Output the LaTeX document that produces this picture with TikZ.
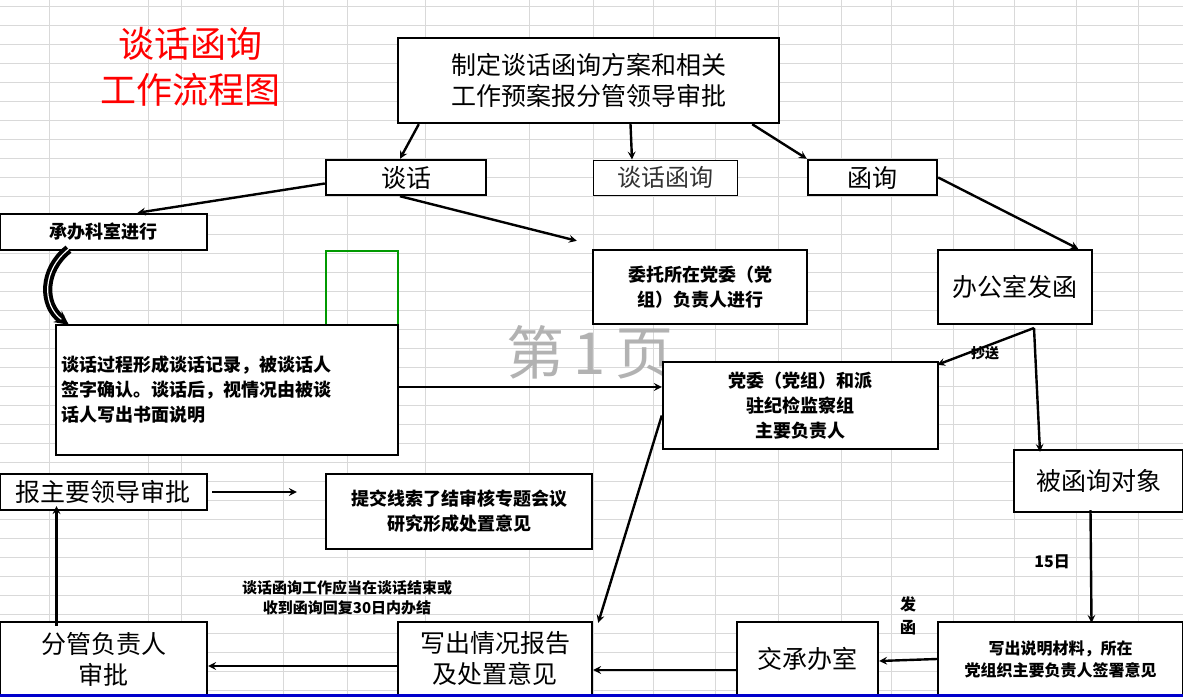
\documentclass[tikz,border=0pt]{standalone}
\usepackage{fontspec}
\setmainfont{Noto Sans CJK SC}
\newfontfamily\cjk{Noto Sans CJK SC}
\begin{document}
\begin{tikzpicture}[x=1pt,y=-1pt,
  bx/.style={draw=black,line width=2.4pt,fill=white,inner sep=0pt,align=center},
  ar/.style={-stealth,line width=2.4pt},
  t18/.style={font=\bfseries\fontsize{18}{25}\selectfont},
  t24/.style={font=\fontsize{25}{31}\selectfont}]
\useasboundingbox (0,0) rectangle (1183,696);
\fill[white] (0,0) rectangle (1183,696);
% grid
\foreach \x in {49,148,181,283,347,425,529,593,653,715,778,841,891,953,1014,1076,1138}
  \draw[gray!30,line width=0.8pt] (\x,0) -- (\x,696);
\foreach \y in {6,25,44,63,82,101,120,139,158,177,196,215,234,253,272,291,310,329,348,367,386,405,424,443,462,481,500,519,538,557,576,595,614,633,652,671,690}
  \draw[gray!30,line width=0.8pt] (0,\y) -- (1183,\y);
% title
\node[red,font=\fontsize{36}{46}\selectfont,align=center] (title) at (190,67) {谈话函询\\工作流程图};
% watermark
\node[gray!60,font=\fontsize{58}{60}\selectfont] (wm) at (590,352) {第\,1\,页};
% boxes
\node[bx,t24,minimum width=381,minimum height=85] (top) at (588.5,80.5) {制定谈话函询方案和相关\\工作预案报分管领导审批};
\node[bx,t24,minimum width=160,minimum height=35] (th) at (406,177.5) {谈话};
\node[bx,line width=1pt,font=\fontsize{24}{26}\selectfont\color{black!80},minimum width=144,minimum height=35] (thhx) at (665,177.5) {谈话函询};
\node[bx,t24,minimum width=129,minimum height=35] (hx) at (872.5,177.5) {函询};
\node[bx,t18,minimum width=207,minimum height=36] (cb) at (103.5,232) {承办科室进行};
\node[draw=green!60!black,line width=2pt,minimum width=72,minimum height=74,inner sep=0pt] (gr) at (362,288) {};
\node[bx,t18,minimum width=214,minimum height=74] (wt) at (700,287) {委托所在党委（党\\组）负责人进行};
\node[bx,t24,minimum width=154,minimum height=74] (bgs) at (1015,287) {办公室发函};
\node[bx,t18,minimum width=342,minimum height=130,align=left,text width=332] (big) at (227,390) {谈话过程形成谈话记录，被谈话人\\签字确认。谈话后，视情况由被谈\\话人写出书面说明};
\node[bx,t18,minimum width=275,minimum height=87] (dw) at (800.5,405.5) {党委（党组）和派\\驻纪检监察组\\主要负责人};
\node[bx,t24,minimum width=169,minimum height=62] (bhx) at (1098.5,481) {被函询对象};
\node[bx,t24,minimum width=207,minimum height=36] (bz) at (103.5,492) {报主要领导审批};
\node[bx,t18,minimum width=266,minimum height=75] (tj) at (459,511.5) {提交线索了结审核专题会议\\研究形成处置意见};
\node[bx,t24,minimum width=207,minimum height=74] (fg) at (103.5,659) {分管负责人\\审批};
\node[bx,t24,minimum width=194,minimum height=74] (xc) at (495,659) {写出情况报告\\及处置意见};
\node[bx,t24,minimum width=141,minimum height=74] (jc) at (807.5,659) {交承办室};
\node[bx,font=\bfseries\fontsize{16}{22}\selectfont,minimum width=245,minimum height=74] (sm) at (1060.5,659) {写出说明材料，所在\\党组织主要负责人签署意见};
\draw[blue!80!black,line width=3pt] (0,695) -- (1183,695);
% labels
\node[font=\bfseries\fontsize{14}{15}\selectfont] (cs) at (985,353) {抄送};
\node[font=\bfseries\fontsize{16}{18}\selectfont] (d15) at (1052,562) {15日};
\node[font=\bfseries\fontsize{16}{23}\selectfont,align=center] (fh) at (908,616) {发\\函};
\node[font=\bfseries\fontsize{15}{20}\selectfont,align=center] (note) at (347,598) {谈话函询工作应当在谈话结束或\\收到函询回复30日内办结};
% arrows
\draw[ar] ([xshift=22pt]top.south west) -- ([xshift=-6pt]th.north);
\draw[ar] ([xshift=42pt]top.south) -- ([xshift=-33pt]thhx.north);
\draw[ar] ([xshift=-28pt]top.south east) -- (hx.north west);
\draw[ar] ([yshift=-6pt]th.west) -- ([xshift=34pt]cb.north);
\draw[ar] ([xshift=-6pt]th.south) -- ([xshift=-15pt,yshift=8pt]wt.north west);
\draw[ar] (hx.east) -- ([xshift=-15pt]bgs.north east);
\draw[-stealth,line width=4pt,double=white,double distance=1.2pt] ([xshift=-35pt,yshift=2pt]cb.south) .. controls (42,270) and (42,305) .. ([xshift=14pt,yshift=-1pt]big.north west);
\draw[ar] ([yshift=3pt]big.east) -- ([yshift=3pt]dw.west|-big.east);
\draw[ar] ([yshift=-10pt]dw.west) -- ([xshift=5pt,yshift=-2pt]xc.north east);
\coordinate (fork) at (1034,328);
\draw[ar] (fork) -- ([xshift=-2pt,yshift=-4pt]dw.north east);
\draw[ar] (fork) -- ([yshift=-3pt]bhx.north west-|1040,0);
\draw[ar] ([xshift=-8pt,yshift=3pt]bhx.south) -- ([xshift=31pt,yshift=-2pt]sm.north);
\draw[ar] (sm.west) -- ([yshift=-2pt]jc.east);
\draw[ar] ([yshift=-11pt]jc.west) -- ([yshift=-11pt]xc.east);
\draw[ar] ([yshift=-7pt]xc.west) -- ([yshift=-7pt]fg.east);
\draw[ar] ([xshift=-47pt,yshift=-5pt]fg.north) -- ([xshift=-47pt,yshift=5pt]bz.south);
\draw[ar] ([xshift=4pt]bz.east) -- ([xshift=-28pt]tj.west|-bz.east);
\end{tikzpicture}
\end{document}
